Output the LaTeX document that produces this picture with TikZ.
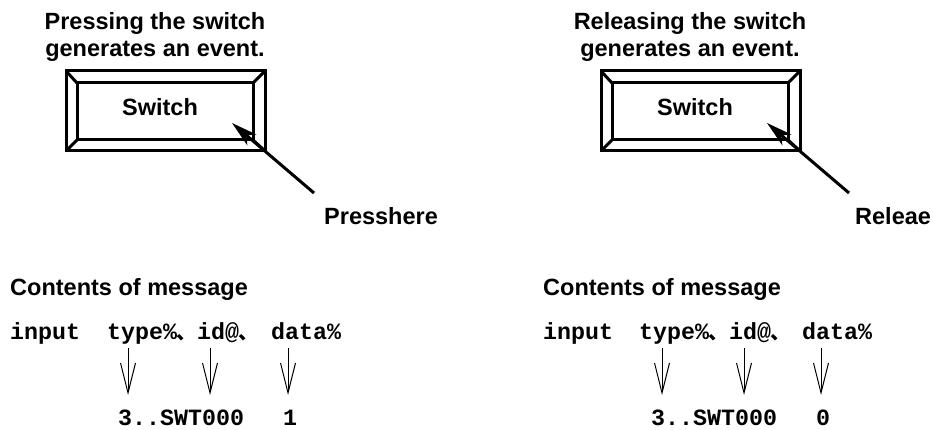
\documentclass[tikz,border=0pt]{standalone}
\usepackage{fontspec}
\setmainfont{Liberation Sans}
\setmonofont{Liberation Mono}
\newfontfamily\cjk{Noto Sans CJK SC}
\usetikzlibrary{arrows.meta}
\tikzset{
  keyln/.style={line width=3pt},
  ptr/.style={line width=3pt,-{Stealth[length=26pt,width=14pt,inset=7pt]}},
  vec/.style={line width=1pt,-{Straight Barb[length=30pt,width=15pt]}},
  lbl/.style={font=\bfseries\fontsize{23.5}{27}\selectfont,inner sep=0pt},
  code/.style={font=\ttfamily\bfseries\fontsize{23.3}{27}\selectfont,inner sep=0pt,anchor=base west}
}
\newcommand{\keycap}[1]{%
  \draw[keyln,xshift=#1] (66,71) rectangle (265,151) (77,83) rectangle (253,140);
  \draw[keyln,xshift=#1] (66,71) -- (77,83) (265,71) -- (253,83) (66,151) -- (77,140) (265,151) -- (253,140);}
\newcommand{\dun}{\kern-1pt{\cjk\fontsize{20}{24}\selectfont 、}}

\begin{document}
\begin{tikzpicture}[x=1pt,y=-1pt]
\useasboundingbox (0,0) rectangle (934,430);
% pressing
\node[lbl,align=center] (hdp) at (155,37) {Pressing the switch\\generates an event.};
\keycap{0}
\node[lbl,anchor=base] (swp) at (160,116) {Switch};
\node[lbl,anchor=base west] (prs) at (324,225) {Presshere};
\coordinate (prsA) at (314,193); \coordinate (prsB) at (232,123);
\draw[ptr] (prsA) -- (prsB);
\node[lbl,anchor=base west] (msgp) at (10,295) {Contents of message};
\node[code] (inp) at (10,339) {input};
\node[code] (typp) at (107,339) {type\%\dun};
\node[code] (idp) at (197,339) {id@\dun};
\node[code] (datp) at (271,339) {data\%};
\node[code] (vidp) at (118,425) {3..SWT000};
\node[code] (vdp) at (283,425) {1};
\foreach \n/\x in {1/128,2/210,3/288} {
  \coordinate (tp\n) at (\x,348); \coordinate (bp\n) at (\x,395);
  \draw[vec] (tp\n) -- (bp\n);
}
% releasing
\node[lbl,align=center] (hdr) at (690,37) {Releasing the switch\\generates an event.};
\keycap{535}
\node[lbl,anchor=base] (swr) at (695,116) {Switch};
\node[lbl,anchor=base west] (rel) at (855,225) {Releae};
\coordinate (relA) at (849,193); \coordinate (relB) at (767,123);
\draw[ptr] (relA) -- (relB);
\node[code] (inr) at (543,339) {input};
\node[lbl,anchor=base west] (msgr) at (543,295) {Contents of message};
\node[code] (typr) at (639,339) {type\%\dun};
\node[code] (idr) at (729,339) {id@\dun};
\node[code] (datr) at (802,339) {data\%};
\node[code] (vidr) at (651,425) {3..SWT000};
\node[code] (vdr) at (816,425) {0};
\foreach \n/\x in {1/662,2/744,3/821} {
  \coordinate (tr\n) at (\x,348); \coordinate (br\n) at (\x,395);
  \draw[vec] (tr\n) -- (br\n);
}
\end{tikzpicture}
\end{document}
